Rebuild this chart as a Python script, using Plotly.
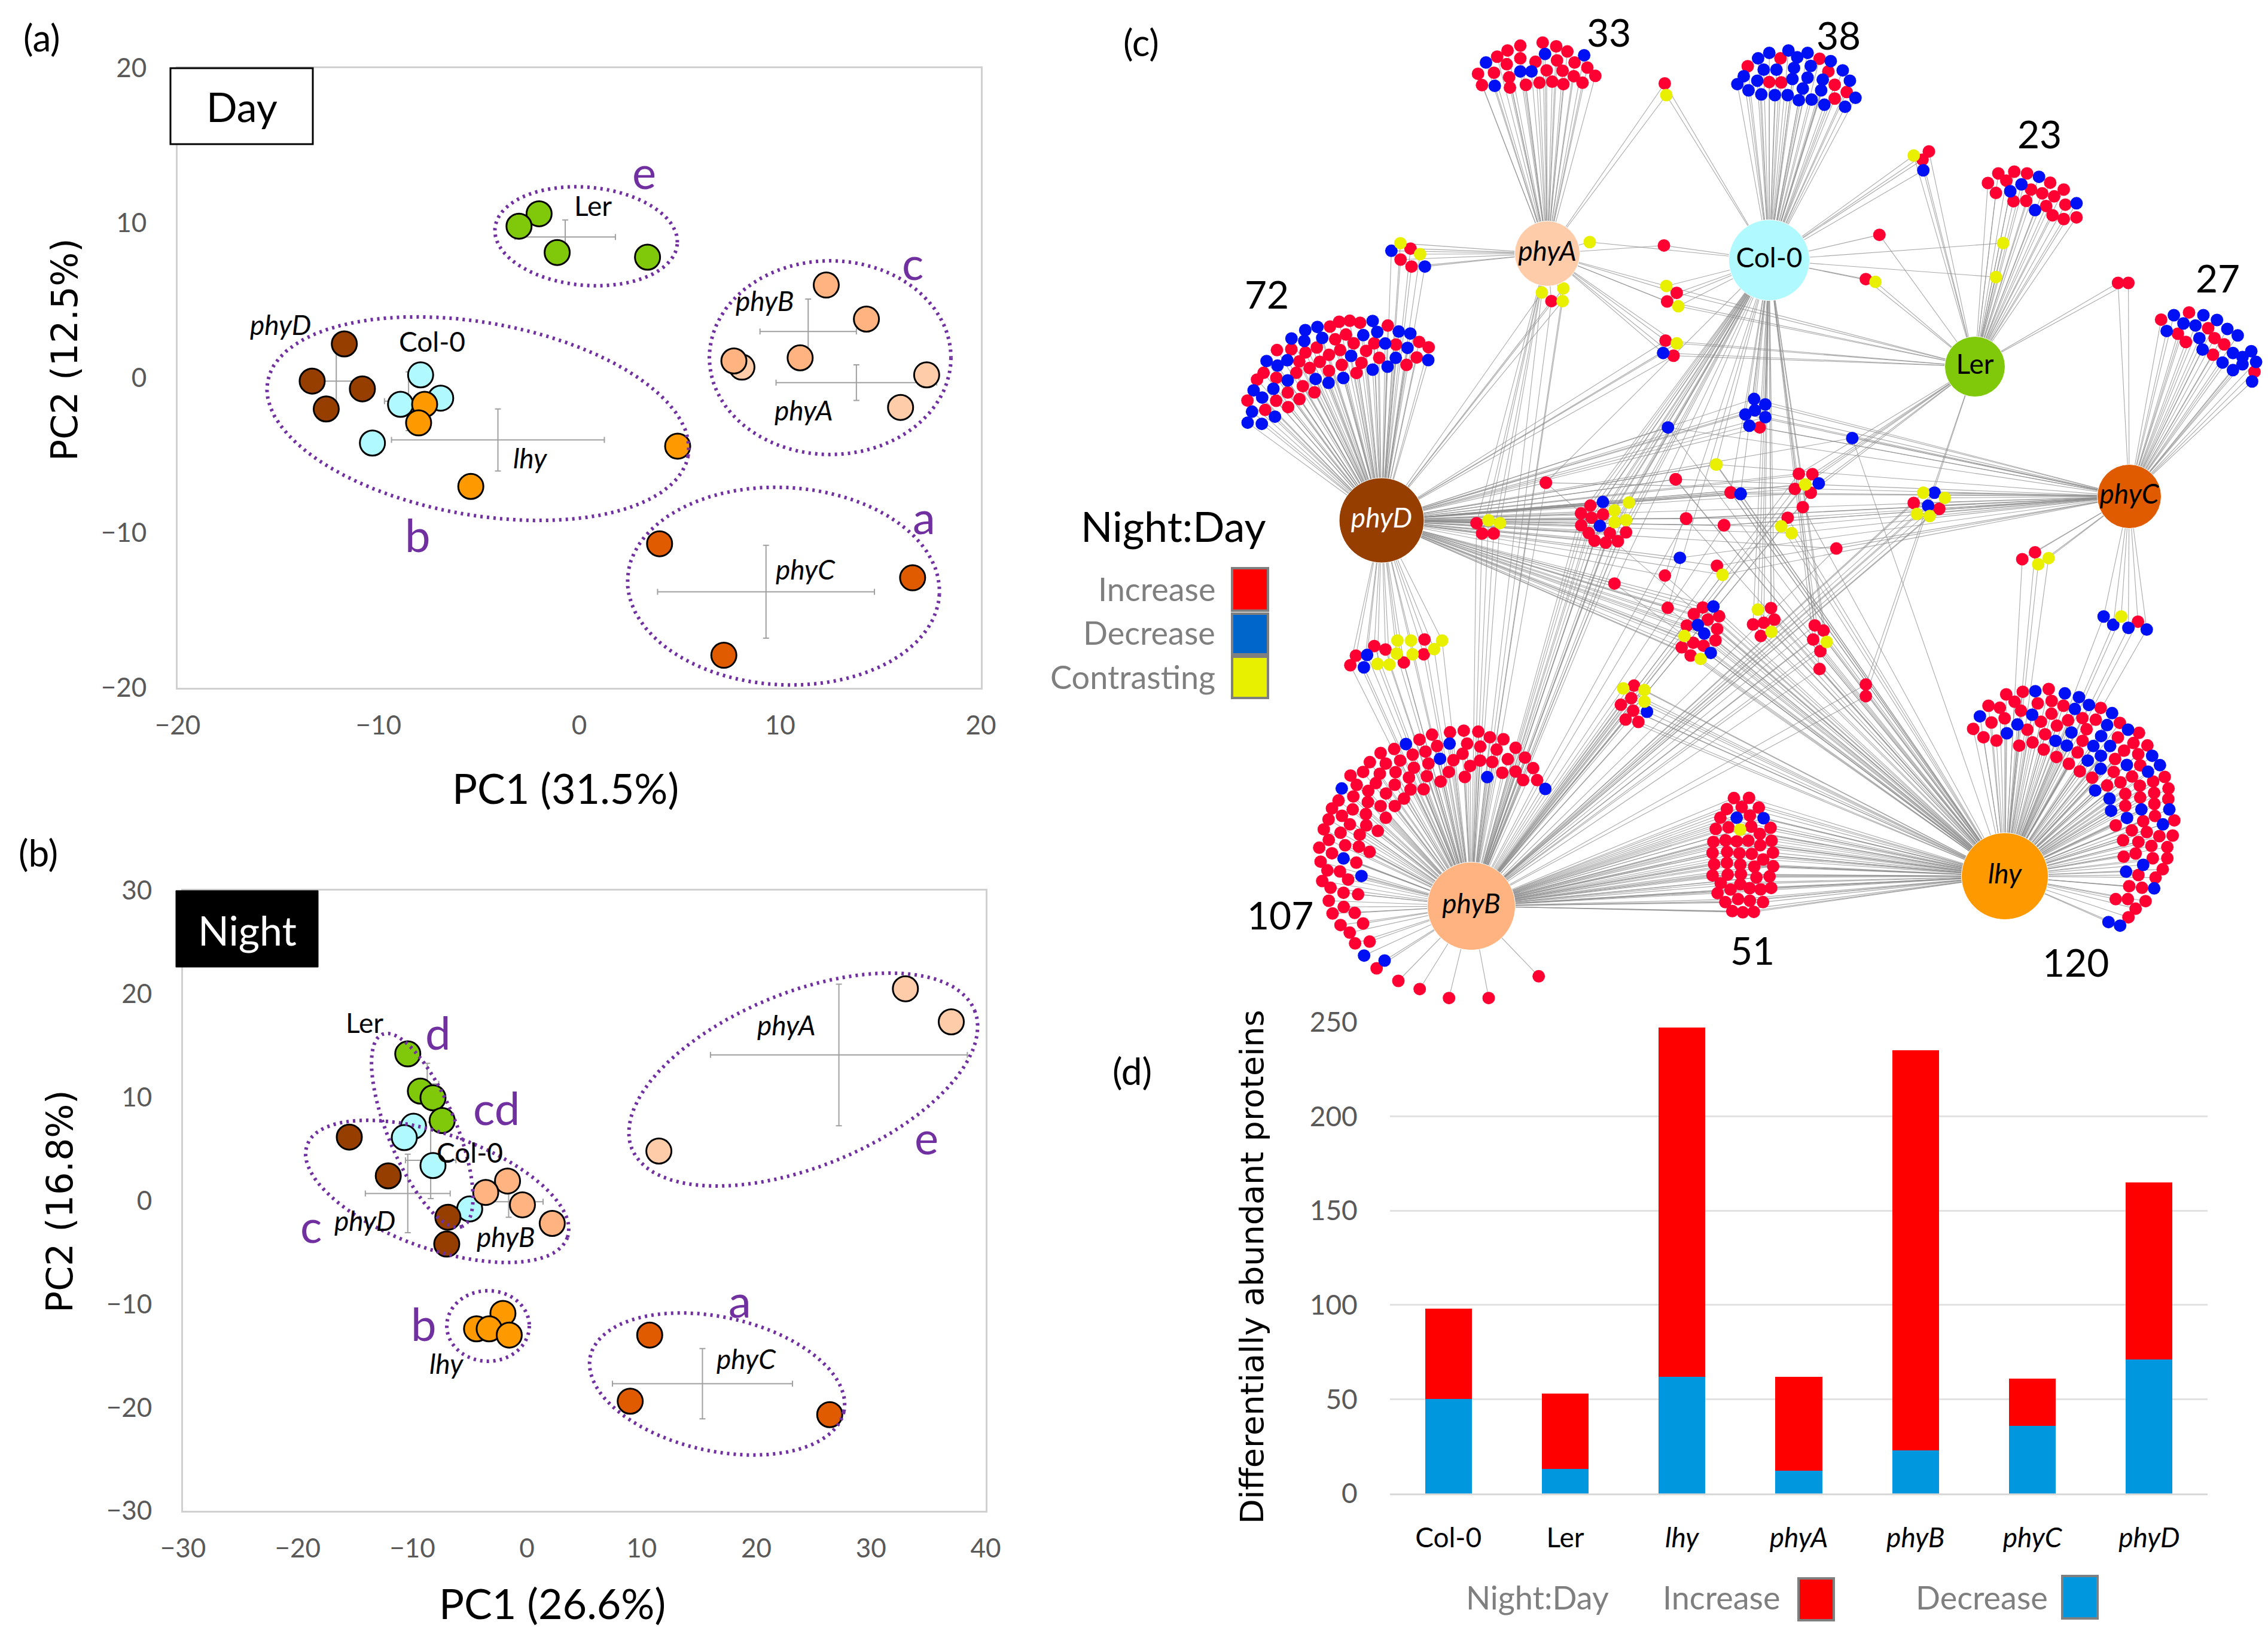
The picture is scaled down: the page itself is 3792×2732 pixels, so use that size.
import math
import plotly.graph_objects as go

W, H = 3792, 2732
r, b, y = "r", "b", "y"

# ---------- panel (a) Day PCA scores ----------
DAY_LER = [(-2.0, 10.6), (-3.0, 9.8), (-1.1, 8.1), (3.4, 7.8)]
DAY_PHYA = [(8.1, 0.7), (17.3, 0.2), (16.0, -1.9)]
DAY_PHYB = [(12.3, 6.0), (14.3, 3.8), (7.7, 1.1), (11.0, 1.3)]
DAY_PHYD = [(-11.7, 2.2), (-13.3, -0.2), (-10.8, -0.7), (-12.6, -2.0)]
DAY_COL = [(-7.9, 0.2), (-6.9, -1.3), (-8.9, -1.7), (-10.3, -4.2)]
DAY_LHY = [(-7.7, -1.7), (-8.0, -2.9), (-5.4, -7.0), (4.9, -4.4)]
DAY_PHYC = [(4.0, -10.7), (16.6, -12.9), (7.2, -17.9)]
# mean x, mean y, x error, y error
DAY_MEANS = [(-0.7, 9.1, 2.5, 1.1), (11.4, 3.0, 2.4, 2.1), (13.8, -0.3, 4.0, 1.15),
             (-12.1, -0.2, 1.2, 1.9), (-8.5, -1.5, 1.2, 1.9), (-4.05, -4.0, 5.3, 2.0),
             (9.3, -13.8, 5.4, 3.0)]

# ---------- panel (b) Night PCA scores ----------
NIGHT_LER = [(-10.4, 14.2), (-9.3, 10.6), (-8.2, 9.95), (-7.4, 7.75)]
NIGHT_COL = [(-9.9, 7.2), (-10.7, 6.1), (-8.2, 3.4), (-5.0, -0.8)]
NIGHT_PHYD = [(-15.5, 6.15), (-12.1, 2.4), (-6.9, -1.6), (-7.0, -4.2)]
NIGHT_PHYB = [(-1.7, 1.9), (-3.6, 0.8), (-0.4, -0.4), (2.2, -2.2)]
NIGHT_LHY = [(-2.1, -10.9), (-4.4, -12.4), (-3.3, -12.4), (-1.55, -13.0)]
NIGHT_PHYC = [(10.7, -13.0), (9.0, -19.4), (26.4, -20.7)]
NIGHT_PHYA = [(33.0, 20.5), (37.0, 17.3), (11.5, 4.8)]
NIGHT_MEANS = [(27.2, 14.1, 11.2, 6.85), (15.3, -17.7, 7.85, 3.4), (-10.4, 0.7, 3.7, 3.8),
               (-8.4, 3.9, 2.2, 3.7), (-1.6, -0.1, 3.0, 1.5), (-8.7, 11.3, 1.0, 2.0)]

# ---------- panel (d) bars ----------
BAR_CATS = ["Col-0", "Ler", "<i>lhy</i>", "<i>phyA</i>", "<i>phyB</i>", "<i>phyC</i>", "<i>phyD</i>"]
BAR_DECREASE = [50, 13, 62, 12, 23, 36, 71]
BAR_INCREASE = [48, 40, 185, 50, 212, 25, 94]

# ---------- panel (c) network: hub name, x, y, diameter, fill, text colour ----------
HUBS = [("phyA", 2587, 424, 109, "#FFCCAA", "black"), ("Col-0", 2958, 435, 135, "#B0FAFF", "black"),
        ("Ler", 3302, 613, 101, "#80C80A", "black"), ("phyC", 3560, 830, 107, "#E05A00", "black"),
        ("phyD", 2310, 870, 142, "#953E00", "white"), ("phyB", 2460, 1515, 147, "#FFB380", "black"),
        ("lhy", 3352, 1465, 145, "#FF9900", "black")]

# reading frames for the node lists: origin x, origin y, scale x, scale y
FR_TOP = (1700, 0, .7495, 1.742)
FR_LOW = (1700, 800, .7495, 1.742)
FR_107 = (2180, 1190, 3, 3)
FR_120 = (3200, 1120, 3, 3)
FR_72 = (2000, 400, 3, 3)
FR_MID = (2480, 720, 3, 3)
FR_51 = (2780, 1150, 3, 3)

NODES_107 = [(512,162,b),(580,140,r),(643,115,r),(733,103,r),(802,95,r),(875,100,r),(933,128,r),(1001,138,r),(1062,181,r),(1109,230,r),(1150,283,r),(1170,343,r),(1211,387,b),(1100,343,r),(1062,300,r),(995,306,r),(920,328,b),(807,327,r),(686,350,r),(727,302,r),(834,272,r),(884,245,r),(945,252,r),(1023,238,r),(967,190,r),(885,175,r),(819,160,r),(731,160,b),(668,172,r),(610,200,r),(546,215,r),(483,245,r),(453,187,r),(385,207,r),(331,253,r),(411,260,r),(297,302,r),(234,320,r),(381,311,r),(460,303,r),(552,281,r),(625,260,r),(683,236,b),(750,243,r),(796,211,r),(527,330,r),(617,323,r),(601,389,r),(535,390,r),(456,366,r),(361,358,r),(265,367,r),(190,385,b),(323,397,r),(412,410,r),(248,425,r),(174,445,r),(502,436,r),(321,453,r),(385,473,r),(456,473,r),(245,490,r),(141,485,r),(191,522,r),(311,513,r),(411,532,r),(124,540,r),(231,565,r),(313,570,r),(371,598,r),(100,590,r),(184,607,r),(280,617,r),(125,643,r),(207,670,r),(276,677,r),(330,703,r),(77,682,r),(141,710,r),(199,736,b),(84,752,r),(263,757,r),(118,796,r),(181,801,r),(289,824,b),(222,842,r),(92,849,r),(134,883,r),(199,908,r),(272,916,r),(125,948,r),(200,979,r),(144,1012,r),(255,1009,r),(184,1070,r),(297,1062,r),(230,1108,r),(330,1153,r),(257,1162,r),(302,1223,b),(405,1248,b),(365,1287,r),(474,1350,r),(581,1391,r),(728,1436,r),(927,1436,r),(1178,1327,r)]

NODES_120 = [(463,123,r),(546,110,r),(609,107,b),(676,96,r),(757,118,b),(828,137,b),(878,176,b),(937,191,r),(994,217,b),(1033,266,r),(1074,300,b),(1129,316,r),(1171,379,r),(1195,431,b),(1234,478,b),(1258,537,r),(1277,595,r),(1276,648,r),(1281,700,b),(1306,755,r),(1298,831,r),(1271,889,r),(1271,945,r),(1248,1000,r),(1212,1042,r),(1205,1096,b),(1162,1160,r),(1112,1198,r),(1076,1241,r),(1034,1283,b),(976,1265,b),(374,180,r),(431,190,r),(505,160,r),(621,168,r),(691,156,r),(750,180,r),(807,196,b),(537,205,r),(690,220,r),(593,225,b),(331,233,b),(389,264,r),(455,243,r),(637,260,r),(773,253,r),(845,242,r),(912,250,r),(969,277,b),(297,296,r),(519,274,b),(717,280,r),(866,298,r),(790,314,b),(569,300,r),(349,338,r),(414,355,r),(466,318,b),(658,323,r),(939,332,b),(1023,339,r),(1101,367,r),(846,356,r),(710,356,b),(528,380,r),(595,364,r),(651,400,r),(767,380,b),(900,382,b),(984,382,b),(1054,405,r),(1125,423,r),(821,414,r),(715,437,r),(938,431,b),(1009,447,r),(872,455,b),(777,471,r),(1068,477,b),(1135,479,r),(1174,511,b),(937,496,b),(832,509,r),(1002,512,r),(1094,535,r),(894,541,r),(1200,560,r),(1036,564,r),(969,580,r),(1133,581,r),(909,605,b),(1060,622,r),(1205,617,r),(1135,640,r),(981,646,b),(1060,682,r),(1206,672,r),(1141,700,b),(989,707,b),(1209,733,r),(1069,743,b),(1150,759,r),(1012,780,r),(1249,775,b),(1093,805,r),(1168,814,r),(1231,834,r),(1049,855,r),(1126,863,r),(1191,883,r),(1112,921,r),(1052,937,r),(1198,945,r),(1150,978,b),(1064,1012,b),(1126,1029,r),(1080,1085,r),(1144,1093,r),(1012,1150,r),(1073,1150,r)]

NODES_72 = [(717,414,r),(770,409,r),(822,419,r),(885,410,b),(671,438,r),(608,440,b),(547,456,b),(961,433,r),(1016,463,b),(1074,473,b),(908,465,b),(838,481,b),(751,478,r),(632,495,b),(697,502,r),(478,498,b),(542,510,b),(1118,515,r),(1166,542,r),(893,522,r),(948,523,b),(1002,528,r),(790,522,r),(605,543,r),(548,568,r),(477,552,r),(405,556,r),(722,556,r),(852,560,r),(1060,545,b),(777,585,b),(666,580,r),(1106,593,r),(1164,606,b),(918,595,r),(1001,595,b),(353,611,b),(457,607,b),(517,613,r),(620,615,r),(408,634,b),(829,620,r),(730,630,r),(1055,630,r),(960,639,b),(569,646,r),(666,660,r),(885,654,b),(338,670,r),(502,670,r),(804,671,r),(402,695,r),(305,704,r),(599,701,b),(738,696,b),(459,708,b),(664,720,b),(535,737,r),(288,758,b),(387,750,b),(459,769,r),(593,768,r),(331,794,b),(518,802,r),(257,809,r),(401,810,r),(461,842,r),(346,856,r),(280,865,b),(395,890,b),(258,920,b),(329,926,b)]

NODES_51 = [(357,553,r),(433,552,r),(322,608,r),(396,598,r),(482,601,r),(289,652,r),(371,652,b),(437,641,r),(506,654,b),(266,708,r),(330,700,r),(388,711,y),(444,696,r),(541,702,r),(487,733,r),(254,773,r),(315,765,r),(371,770,r),(429,767,r),(546,767,r),(489,790,r),(250,828,r),(323,823,r),(385,830,r),(446,833,r),(553,827,r),(504,861,r),(258,885,r),(322,878,r),(389,887,r),(459,897,r),(554,895,r),(250,941,r),(326,937,r),(392,935,r),(470,951,r),(536,946,r),(291,980,r),(389,985,r),(436,1005,r),(340,1012,r),(491,1011,r),(544,1004,r),(275,1030,r),(378,1060,r),(437,1068,r),(314,1075,r),(503,1075,r),(349,1120,r),(402,1126,r),(457,1124,r)]

NODES_33 = [(659,124,r),(631,133,r),(676,135,r),(615,147,r),(690,150,r),(602,165,r),(662,157,b),(711,161,b),(631,170,r),(677,176,r),(699,182,r),(588,182,b),(614,187,r),(650,180,r),(664,205,r),(631,208,b),(645,208,b),(684,206,r),(715,197,r),(578,215,r),(598,212,r),(725,221,r),(698,222,r),(617,225,r),(671,238,r),(655,241,r),(638,247,r),(685,245,r),(709,241,r),(583,248,r),(599,250,b),(618,255,r)]

NODES_38 = [(967,147,b),(943,154,b),(991,154,b),(929,170,b),(957,170,r),(978,167,b),(1006,171,r),(1020,178,b),(916,193,r),(995,192,b),(974,198,b),(936,203,b),(952,203,b),(1035,205,b),(1017,208,r),(911,222,b),(972,230,b),(991,226,b),(943,239,r),(958,240,r),(928,235,b),(1044,235,b),(1010,232,b),(1025,247,r),(903,245,b),(985,258,b),(1008,263,b),(917,263,b),(966,277,b),(933,275,b),(950,277,b),(1040,268,r),(980,292,b),(996,290,b),(1025,287,r),(1051,285,b),(1012,305,b),(1038,311,b)]

NODES_23 = [(1230,505,r),(1250,500,r),(1266,505,r),(1281,515,b),(1217,533,r),(1240,526,r),(1295,532,r),(1259,537,b),(1245,557,b),(1271,552,r),(1312,552,r),(1285,563,r),(1227,562,r),(1300,572,r),(1265,585,r),(1249,586,r),(1328,592,b),(1314,596,r),(1290,600,r),(1276,612,b),(1298,627,r),(1312,638,r),(1328,633,r)]

NODES_27 = [(1469,910,r),(1450,918,b),(1487,918,b),(1434,931,r),(1504,932,b),(1462,942,b),(1477,948,b),(1441,964,b),(1493,956,r),(1517,958,b),(1455,972,r),(1482,985,b),(1501,985,r),(1530,977,b),(1465,996,r),(1513,1003,r),(1486,1018,b),(1524,1028,b),(1547,1023,b),(1499,1033,r),(1536,1040,b),(1511,1056,b),(1553,1054,b),(1536,1061,b),(1524,1078,b),(1551,1083,r),(1548,1111,b)]

MID_A = [(600,358,b),(731,361,y),(537,376,r),(658,400,y),(490,415,r),(601,420,r),(543,437,r),(716,449,y),(658,459,y),(585,478,b),(491,475,r),(716,510,r),(635,514,r),(529,514,r),(558,552,r),(614,562,r),(675,555,r)]
MID_C = [(1101,887,r),(1154,882,b),(1056,920,r),(1183,931,r),(1126,948,r),(1021,978,r),(1076,975,b),(1173,995,r),(1108,1018,b),(1009,1030,y),(1165,1052,r),(1053,1064,r),(1105,1079,r),(995,1087,r),(1141,1115,b),(1040,1128,r),(1090,1145,y)]
MID_D = [(1377,898,y),(1443,890,r),(1460,948,r),(1353,972,r),(1407,964,r),(1445,1009,y),(1392,1030,r)]
MID_E = [(702,1293,y),(756,1279,r),(808,1301,y),(742,1342,r),(808,1359,y),(690,1375,r),(752,1405,r),(821,1410,b),(714,1449,r),(778,1461,r)]
MID_S1 = [(314,261,r)]
MID_S2 = [(964,244,r),(1167,170,y),(1240,310,r),(1291,316,b)]
MID_S3 = [(1017,440,r),(1208,474,r),(986,638,b),(1172,678,r),(1200,723,y)]
MID_S4 = [(911,727,r),(658,767,r),(925,889,r)]
PHYD_NEAR = [(1406,1424,r),(1466,1410,y),(1524,1424,y),(1434,1476,r),(1492,1476,r)]
PHYA_LEFT = [(1024,20,y),(979,58,b),(1075,47,r),(1123,75,y),(1025,102,r),(1080,137,r),(1147,137,b)]
LOW_LEFT = [(477,472,y),(494,472,y),(511,469,r),(533,472,y),(448,488,r),(462,498,r),(523,497,y),(439,514,b),(425,516,r),(476,510,y),(496,512,y),(510,512,r),(418,544,r),(435,550,b),(452,540,y),(467,542,y),(485,536,r)]
LOW_PHYC1 = [(1260,235,r),(1276,215,r),(1293,232,y),(1280,250,y)]
LOW_PHYC2 = [(1362,402,b),(1384,402,y),(1374,426,b),(1405,417,r),(1393,435,b),(1416,440,b)]
LOW_MIX = [(1000,428,r),(1011,443,r),(998,469,r),(1015,476,y),(1007,503,r),(1006,555,r)]
LOW_PAIR = [(1064,600,r),(1064,634,r)]
LOW_SINGLE = [(1027,204,r)]
TOP_RIGHT_MIX = [(1136,1435,y),(1150,1435,b),(1163,1450,y),(1124,1465,r),(1142,1473,b),(1156,1482,r),(1128,1497,y),(1144,1503,y)]
TOP_CENTRE_MIX = [(980,1380,r),(997,1381,r),(988,1411,y),(1005,1408,b),(975,1424,r),(995,1435,r)]
TOP_SIDE = [(985,1477,r),(966,1508,r),(958,1533,y),(971,1553,y)]
TOP_PAIR = [(812,243,r),(814,277,y)]
PHYA_BELOW = [(658,852,y),(685,840,y),(670,877,r),(684,877,y)]
PHYA_RIGHT = [(718,705,y),(811,715,r)]
COL_LEFT1 = [(814,833,y),(827,853,r),(815,878,r),(829,892,y)]
COL_LEFT2 = [(813,992,r),(827,1000,y),(810,1028,b),(823,1036,r)]
BLUE_MIX = [(924,1162,b),(938,1178,b),(925,1195,b),(913,1207,b),(938,1215,b),(918,1240,b),(931,1245,r)]
TOP_SINGLES = [(816,1245,b),(1047,1276,b),(877,1353,y),(826,1396,r),(663,1406,r),(895,1435,r),(907,1439,b),(839,1511,r),(886,1530,r)]
COL_RIGHT = [(1081,684,r),(1064,813,r),(1076,821,y),(1236,708,y),(1227,807,y)]
LER_UP = [(1124,453,y),(1143,441,r),(1135,465,r),(1136,496,b)]
LER_PHYC = [(1380,824,r),(1393,824,r)]

# node list, reading frame, hubs it links to
NETWORK = [
    (NODES_107, FR_107, ["phyB"]), (NODES_120, FR_120, ["lhy"]), (NODES_72, FR_72, ["phyD"]),
    (NODES_51, FR_51, ["phyB", "lhy"]), (NODES_33, FR_TOP, ["phyA"]), (NODES_38, FR_TOP, ["Col-0"]),
    (NODES_23, FR_TOP, ["Ler"]), (NODES_27, FR_TOP, ["phyC"]),
    (MID_A, FR_MID, ["phyD", "phyB", "Col-0"]), (MID_C, FR_MID, ["phyD", "lhy"]),
    (MID_D, FR_MID, ["Col-0", "lhy"]), (MID_E, FR_MID, ["phyB", "lhy"]),
    (MID_S1, FR_MID, ["phyB", "Col-0"]), (MID_S2, FR_MID, ["phyD", "Col-0", "lhy"]),
    (MID_S3, FR_MID, ["phyD", "phyC", "phyB"]), (MID_S4, FR_MID, ["phyD", "Col-0", "lhy"]),
    (PHYD_NEAR, FR_72, ["phyD", "phyA", "phyB"]), (PHYA_LEFT, FR_72, ["phyA", "phyD"]),
    (LOW_LEFT, FR_LOW, ["phyD", "phyB"]), (LOW_PHYC1, FR_LOW, ["phyC", "lhy"]),
    (LOW_PHYC2, FR_LOW, ["phyC", "lhy"]), (LOW_MIX, FR_LOW, ["Col-0", "phyB", "lhy"]),
    (LOW_PAIR, FR_LOW, ["Ler", "phyB"]), (LOW_SINGLE, FR_LOW, ["phyD", "phyC", "phyB"]),
    (TOP_RIGHT_MIX, FR_TOP, ["phyC", "phyB"]), (TOP_CENTRE_MIX, FR_TOP, ["Ler", "phyD", "phyB"]),
    (TOP_SIDE, FR_TOP, ["phyC", "phyD", "lhy"]), (TOP_PAIR, FR_TOP, ["phyA", "Col-0"]),
    (PHYA_BELOW, FR_TOP, ["phyA", "phyD", "phyB"]), (PHYA_RIGHT, FR_TOP, ["phyA", "Col-0"]),
    (COL_LEFT1, FR_TOP, ["Col-0", "Ler", "phyA"]), (COL_LEFT2, FR_TOP, ["Ler", "phyD", "phyA"]),
    (BLUE_MIX, FR_TOP, ["Col-0", "phyC", "phyD"]), (TOP_SINGLES, FR_TOP, ["phyD", "phyC", "lhy"]),
    (COL_RIGHT, FR_TOP, ["Col-0", "Ler"]), (LER_UP, FR_TOP, ["Col-0", "Ler"]),
    (LER_PHYC, FR_TOP, ["Ler", "phyC"]),
]

GENO_COL = {"Ler": "#80C80A", "phyA": "#FFCCAA", "phyB": "#FFB380", "phyC": "#E05A00",
            "phyD": "#953E00", "Col-0": "#B0FAFF", "lhy": "#FF9900"}
PURPLE = "#7030A0"
FONT = "Lato"
GREY = "#595959"


def fx(px):
    return px / W


def fy(px):
    return 1 - px / H


fig = go.Figure()


def scores(pts, name, xa, ya):
    fig.add_trace(go.Scatter(x=[p[0] for p in pts], y=[p[1] for p in pts], mode="markers", name=name,
                             xaxis=xa, yaxis=ya, showlegend=False,
                             marker=dict(size=42, opacity=1, color=GENO_COL[name],
                                         line=dict(color="black", width=3))))


def means(rows, xa, ya):
    fig.add_trace(go.Scatter(x=[m[0] for m in rows], y=[m[1] for m in rows], mode="markers", xaxis=xa, yaxis=ya,
                             showlegend=False, marker=dict(size=1, color="rgba(0,0,0,0)"),
                             error_x=dict(type="data", array=[m[2] for m in rows], color="#a0a0a0", thickness=2, width=5),
                             error_y=dict(type="data", array=[m[3] for m in rows], color="#a0a0a0", thickness=2, width=5)))


# group rings: in picture pixels (centre x, centre y, semi a, semi b, tilt degrees)
RINGS = [(980, 395, 153, 82, 5), (1388, 598, 202, 162, 0), (799, 700, 357, 161, 10), (1310, 980, 261, 165, 3),
         (1343, 1805, 309, 146, -22), (731, 1992, 231, 96, 19.5), (706, 1890, 174, 57, 67.5),
         (816, 2217, 69, 59, 0), (1199, 2314, 217, 112, 12.3)]
for cx, cy, sa, sb, tilt in RINGS:
    th = math.radians(tilt)
    path = "M"
    for i in range(73):
        t = math.radians(i * 5)
        px = cx + sa * math.cos(t) * math.cos(th) - sb * math.sin(t) * math.sin(th)
        py = cy + sa * math.cos(t) * math.sin(th) + sb * math.sin(t) * math.cos(th)
        path += f"{'' if i == 0 else ' L'}{fx(px):.5f},{fy(py):.5f}"
    fig.add_shape(type="path", path=path, xref="paper", yref="paper",
                  line=dict(color=PURPLE, width=6, dash="4px,7px"), layer="above")

means(DAY_MEANS, "x", "y")
for pts, name in [(DAY_LER, "Ler"), (DAY_PHYA, "phyA"), (DAY_PHYB, "phyB"), (DAY_PHYD, "phyD"),
                  (DAY_COL, "Col-0"), (DAY_LHY, "lhy"), (DAY_PHYC, "phyC")]:
    scores(pts, name, "x", "y")
means(NIGHT_MEANS, "x2", "y2")
for pts, name in [(NIGHT_LER, "Ler"), (NIGHT_COL, "Col-0"), (NIGHT_PHYD, "phyD"), (NIGHT_PHYB, "phyB"),
                  (NIGHT_LHY, "lhy"), (NIGHT_PHYC, "phyC"), (NIGHT_PHYA, "phyA")]:
    scores(pts, name, "x2", "y2")

# bars
fig.add_trace(go.Bar(x=BAR_CATS, y=BAR_DECREASE, name="Decrease", marker=dict(color="#0097DE", line=dict(width=0)),
                     width=0.4, xaxis="x3", yaxis="y3", showlegend=False))
fig.add_trace(go.Bar(x=BAR_CATS, y=BAR_INCREASE, name="Increase", marker=dict(color="#FF0000", line=dict(width=0)),
                     width=0.4, xaxis="x3", yaxis="y3", showlegend=False))

# network
hub_pos = {h[0]: (h[1], h[2]) for h in HUBS}
ex, ey = [], []
leaf = {r: ([], []), b: ([], []), y: ([], [])}
for nodes, (ox, oy, sx, sy), hubs in NETWORK:
    for nx, ny, c in nodes:
        px, py = ox + nx / sx, oy + ny / sy
        leaf[c][0].append(px)
        leaf[c][1].append(py)
        for h in hubs:
            ex += [px, hub_pos[h][0], None]
            ey += [py, hub_pos[h][1], None]
fig.add_trace(go.Scatter(x=ex, y=ey, mode="lines", xaxis="x4", yaxis="y4", showlegend=False, hoverinfo="skip",
                         line=dict(color="rgba(140,140,140,0.75)", width=1.1)))
for c, col, nm in [(r, "#FF0033", "Increase"), (b, "#0010F5", "Decrease"), (y, "#E8F000", "Contrasting")]:
    fig.add_trace(go.Scatter(x=leaf[c][0], y=leaf[c][1], mode="markers", name=nm, xaxis="x4", yaxis="y4",
                             showlegend=False, marker=dict(size=21, opacity=1, color=col)))
fig.add_trace(go.Scatter(x=[h[1] for h in HUBS], y=[h[2] for h in HUBS], mode="markers+text", xaxis="x4", yaxis="y4",
                         showlegend=False,
                         text=[h[0] if h[0] in ("Col-0", "Ler") else f"<i>{h[0]}</i>" for h in HUBS],
                         textposition="middle center",
                         textfont=dict(family=FONT, size=46, color=[h[5] for h in HUBS]),
                         marker=dict(size=[h[3] for h in HUBS], opacity=1, color=[h[4] for h in HUBS])))

# ---------- texts in picture pixels ----------
anns = []


def put(text, px, py, size, color="black", fam=FONT, anchor="center", angle=0):
    anns.append(dict(text=text, x=fx(px), y=fy(py), xref="paper", yref="paper", showarrow=False, xanchor=anchor,
                     yanchor="middle", textangle=angle, font=dict(family=fam, size=size, color=color)))


for t, px, py in [("(a)", 70, 62), ("(b)", 64, 1425), ("(c)", 1908, 70), ("(d)", 1893, 1790)]:
    put(t, px, py, 62)
for t, px, py in [("e", 1077, 286), ("c", 1526, 438), ("a", 1545, 863), ("b", 698, 893), ("d", 732, 1725),
                  ("cd", 830, 1851), ("c", 520, 2048), ("e", 1549, 1900), ("a", 1237, 2173), ("b", 708, 2212)]:
    put(t, px, py, 76, PURPLE)
for t, px, py in [("Ler", 991, 344), ("Col-0", 722, 570), ("<i>phyB</i>", 1278, 502), ("<i>phyA</i>", 1343, 686),
                  ("<i>phyD</i>", 469, 542), ("<i>lhy</i>", 886, 765), ("<i>phyC</i>", 1347, 952),
                  ("Ler", 609, 1710), ("Col-0", 785, 1926), ("<i>phyD</i>", 610, 2040), ("<i>phyB</i>", 845, 2067),
                  ("<i>lhy</i>", 746, 2279), ("<i>phyC</i>", 1248, 2271), ("<i>phyA</i>", 1314, 1713)]:
    put(t, px, py, 46)
for t, px, py in [("33", 2690, 53), ("38", 3074, 58), ("23", 3410, 223), ("27", 3708, 465), ("72", 2118, 492),
                  ("107", 2140, 1529), ("51", 2930, 1588), ("120", 3470, 1608)]:
    put(t, px, py, 64)
put("Night:Day", 1962, 879, 70)
for t, py in [("Increase", 985), ("Decrease", 1057), ("Contrasting", 1131)]:
    put(t, 2034, py, 54, "#7f7f7f", anchor="right")
for t, px in [("Night:Day", 2570), ("Increase", 2878), ("Decrease", 3313)]:
    put(t, px, 2670, 54, "#7f7f7f")
put("Day", 404, 178, 68)
put("Night", 413, 1555, 68, "white")
# axis titles
put("PC1 (31.5%)", 945, 1317, 70)
put("PC1 (26.6%)", 923, 2680, 70)
put("PC2 (12.5%)", 108, 585, 60, fam="DejaVu Sans", angle=-90)
put("PC2 (16.8%)", 100, 2009, 60, fam="DejaVu Sans", angle=-90)
put("Differentially abundant proteins", 2093, 2118, 54, fam="DejaVu Sans", angle=-90)


def box(x0, y0, x1, y1, fill, line="#7f7f7f", w=4):
    return dict(type="rect", xref="paper", yref="paper", x0=fx(x0), x1=fx(x1), y0=fy(y1), y1=fy(y0),
                fillcolor=fill, line=dict(color=line, width=w), layer="above")


for s in [box(285, 114, 523, 241, "white", "black", 3), box(294, 1489, 532, 1617, "black", "black", 1),
          box(2060, 950, 2120, 1021, "#FF0000"), box(2060, 1026, 2120, 1094, "#0066CC"),
          box(2060, 1098, 2120, 1167, "#E8F000"), box(3007, 2639, 3066, 2709, "#FF0000"),
          box(3448, 2635, 3507, 2706, "#0097DE")]:
    fig.add_shape(**s)

tick_font = dict(family=FONT, size=44, color=GREY)


def pca_x(x0, x1, rng):
    return dict(domain=[fx(x0), fx(x1)], range=rng, dtick=10, showgrid=False, zeroline=False, showline=True,
                mirror=True, linecolor="#d0d0d0", linewidth=3, ticks="outside", ticklen=22, automargin=False,
                tickcolor="rgba(0,0,0,0)", tickfont=tick_font)


def pca_y(y0, y1, rng):
    return dict(domain=[fy(y1), fy(y0)], range=rng, dtick=10, showgrid=False, zeroline=False, showline=True,
                mirror=True, linecolor="#d0d0d0", linewidth=3, ticks="outside", ticklen=40, automargin=False,
                tickcolor="rgba(0,0,0,0)", tickfont=tick_font)


fig.update_layout(
    width=W, height=H, margin=dict(l=0, r=0, t=0, b=0), paper_bgcolor="white", plot_bgcolor="rgba(0,0,0,0)",
    barmode="stack", showlegend=False, annotations=anns,
    xaxis=dict(**pca_x(297, 1640, [-20, 20]), anchor="y"),
    yaxis=dict(**pca_y(114, 1150, [-20, 20]), anchor="x"),
    xaxis2=dict(**pca_x(306, 1648, [-30, 40]), anchor="y2"),
    yaxis2=dict(**pca_y(1489, 2526, [-30, 30]), anchor="x2"),
    xaxis3=dict(domain=[fx(2324), fx(3691)], anchor="y3", type="category", categoryorder="array",
                categoryarray=BAR_CATS, showgrid=False, zeroline=False, showline=True, linecolor="#d9d9d9",
                linewidth=3, ticks="outside", ticklen=32, tickcolor="rgba(0,0,0,0)", automargin=False,
                tickfont=dict(family=FONT, size=46, color="black")),
    yaxis3=dict(domain=[fy(2497), fy(1709)], anchor="x3", range=[0, 250], dtick=50, showgrid=True,
                gridcolor="#e2e2e2", gridwidth=3, zeroline=False, showline=False, ticks="outside", ticklen=44,
                tickcolor="rgba(0,0,0,0)", tickfont=dict(family=FONT, size=46, color=GREY), automargin=False),
    xaxis4=dict(domain=[fx(1700), 1], range=[1700, 3792], anchor="y4", visible=False, automargin=False),
    yaxis4=dict(domain=[fy(1700), 1], range=[1700, 0], anchor="x4", visible=False, automargin=False),
)

fig.write_html("out.html", post_script="document.body.style.margin='0';", config={"displayModeBar": False})
